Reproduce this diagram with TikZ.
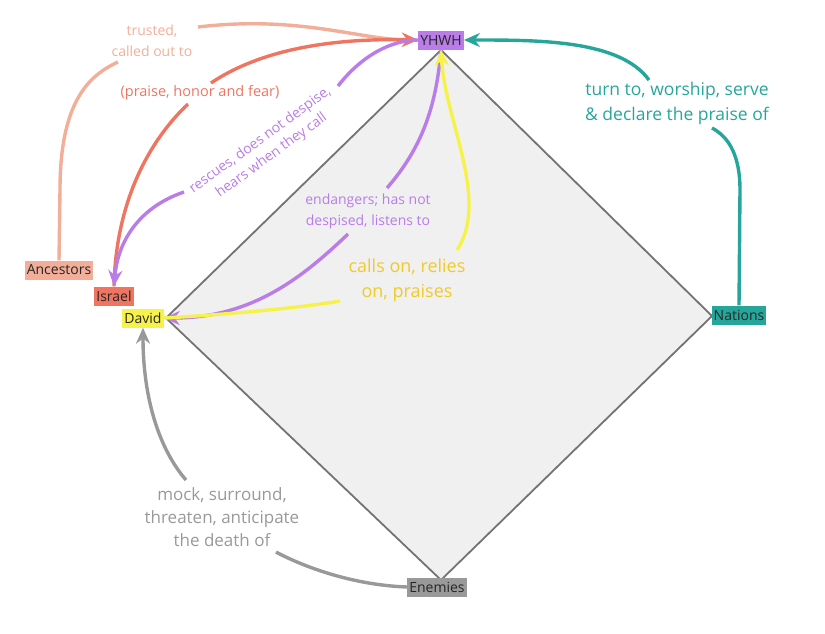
\documentclass[tikz,border=0pt]{standalone}
\usepackage{fontspec}
\setmainfont{Open Sans}
\usetikzlibrary{arrows.meta}
\definecolor{cy}{HTML}{B97CE8}
\definecolor{cn}{HTML}{26A69A}
\definecolor{ce}{HTML}{999999}
\definecolor{cd}{HTML}{F7F24A}
\definecolor{ci}{HTML}{EF7560}
\definecolor{ca}{HTML}{F2AE98}
\definecolor{cdy}{HTML}{EFCB2A}
\begin{document}
\begin{tikzpicture}[x=1pt,y=-1pt,
 box/.style={inner sep=2pt,font=\fontsize{14}{16}\selectfont,text=black!85,minimum height=19},
 ln/.style={line width=3.4pt},
 e/.style={line width=3.4pt,-{Stealth[length=16pt,width=14pt]}},
 lab/.style={align=center,inner sep=2pt}]
\useasboundingbox (0,0) rectangle (825,633);
\draw[fill=black!6,draw=black!55,line width=1.8pt] (441,50)--(712,316)--(441,580)--(166,318)--cycle;
\node[box,fill=cy] (Y) at (441,40) {YHWH};
\node[box,fill=cn] (N) at (739,315) {Nations};
\node[box,fill=ce] (E) at (437,587) {Enemies};
\node[box,fill=cd] (D) at (143,318) {David};
\node[box,fill=ci] (I) at (114,296) {Israel};
\node[box,fill=ca] (A) at (59,270) {Ancestors};
% labels
\node[lab,text=ca,font=\fontsize{14}{21}\selectfont] (la) at (152,41) {trusted,\\called out to};
\node[lab,text=ci,font=\fontsize{14.5}{18}\selectfont] (li) at (200,93) {(praise, honor and fear)};
\node[lab,text=cy,rotate=36,font=\fontsize{14}{19}\selectfont] (lr) at (266,148) {rescues, does not despise,\\hears when they call};
\node[lab,text=cy,font=\fontsize{14}{21}\selectfont] (lx) at (368,211) {endangers; has not\\despised, listens to};
\node[lab,text=cdy,font=\fontsize{18}{25}\selectfont] (lc) at (407,280) {calls on, relies\\on, praises};
\node[lab,text=cn,font=\fontsize{17.5}{25}\selectfont] (ln) at (677,103) {turn to, worship, serve\\\& declare the praise of};
\node[lab,text=ce,font=\fontsize{17}{23}\selectfont] (le) at (222,517) {mock, surround,\\threaten, anticipate\\the death of};
% edges
\draw[ca,ln] (A.north) -- (60,190) .. controls (60,100) and (90,75) .. (118,62);
\draw[ca,e] (198,27) .. controls (300,15) and (360,40) .. (Y.west);
\draw[ci,ln] (I.north) .. controls (116,200) and (150,140) .. (188,104);
\draw[ci,e] (211,83) .. controls (260,50) and (330,38) .. (Y.west);
\draw[cy,ln] (Y.west) .. controls (392,40) and (362,55) .. (338,86);
\draw[cy,e] (184,192) .. controls (140,207) and (118,240) .. (I.north);
\draw[cy,ln] (Y.south) .. controls (436,110) and (420,150) .. (387,188);
\draw[cy,e] (348,234) .. controls (300,280) and (250,318) .. (D.east);
\draw[cd,ln] (D.east) .. controls (220,315) and (300,308) .. (340,301);
\draw[cd,e] (457,250) .. controls (490,200) and (445,120) .. (Y.south);
\draw[cn,ln] (N.north) -- (740,190) .. controls (740,150) and (725,135) .. (712,128);
\draw[cn,e] (649,80) .. controls (620,40) and (540,40) .. (Y.east);
\draw[ce,ln] (E.west) .. controls (350,585) and (300,565) .. (276,552);
\draw[ce,e] (186,480) .. controls (160,450) and (143,400) .. (D.south);
\end{tikzpicture}
\end{document}
